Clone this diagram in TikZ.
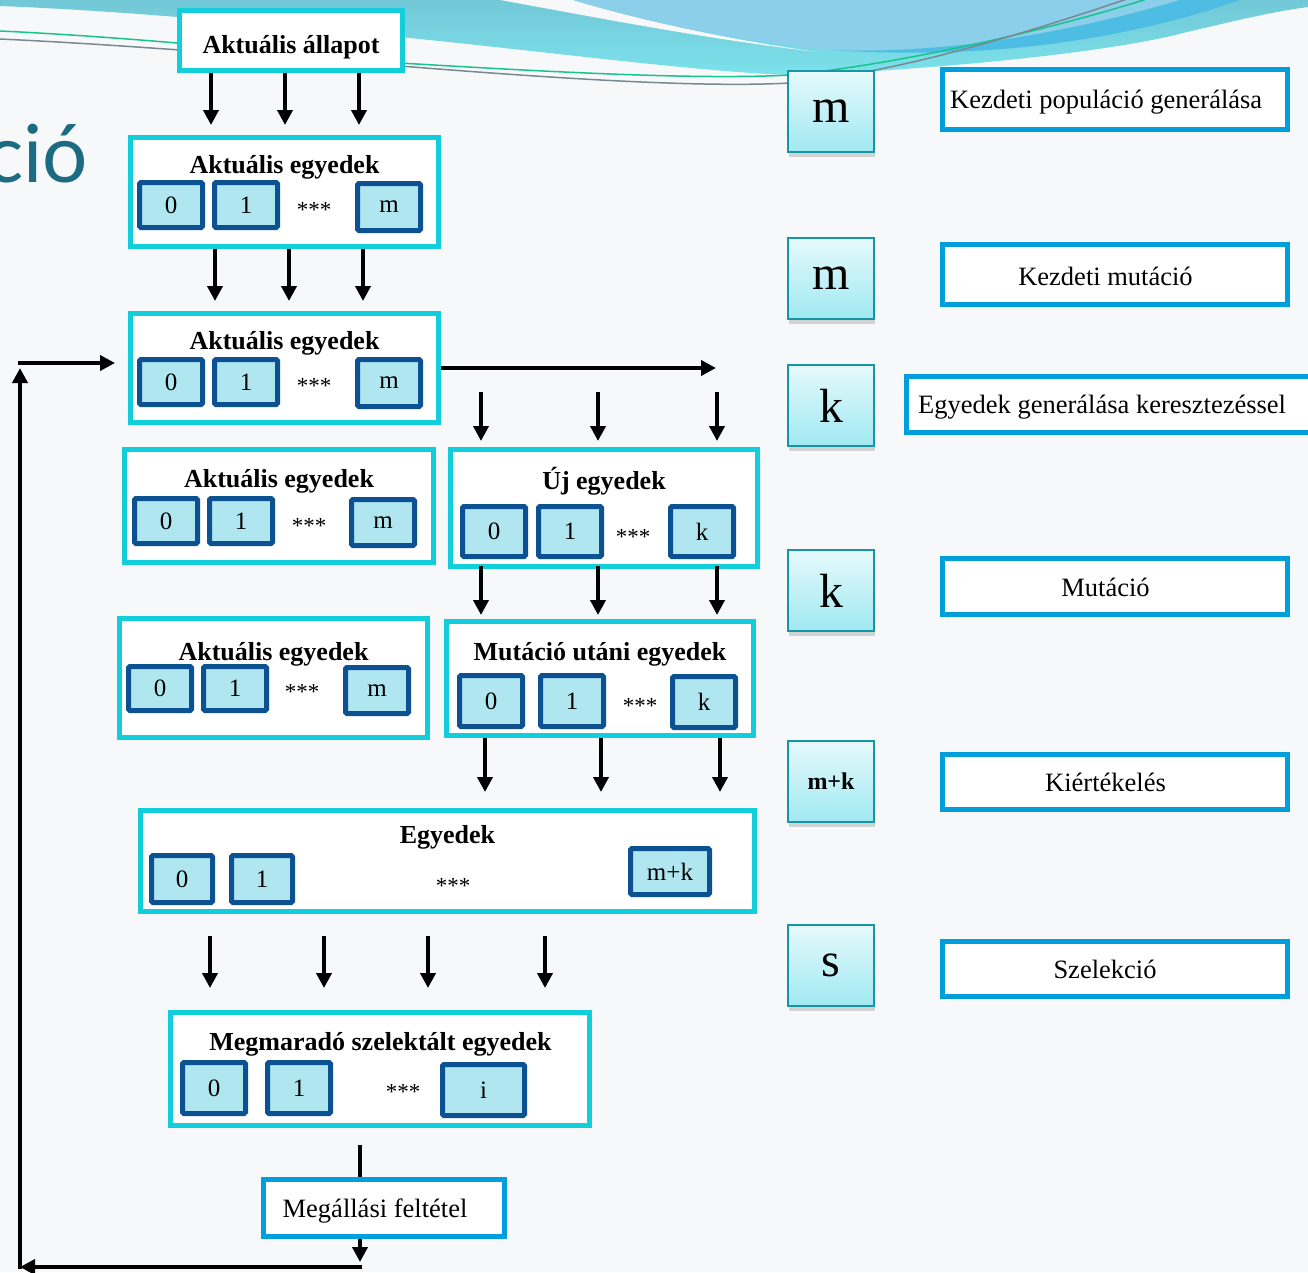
\documentclass[tikz,border=0pt]{standalone}
\usepackage{fontspec}
\setmainfont{Liberation Serif}
\newfontfamily\slidefont{Lato}
\usetikzlibrary{arrows.meta}
\usetikzlibrary{positioning,shadows}

\definecolor{framecyan}{RGB}{18,206,218}
\definecolor{celldark}{RGB}{12,82,146}
\definecolor{cellfill}{RGB}{176,230,240}
\definecolor{frameblue}{RGB}{0,158,218}
\definecolor{sqedge}{RGB}{22,150,160}
\definecolor{sqtop}{RGB}{230,250,252}
\definecolor{sqbot}{RGB}{160,233,242}
\definecolor{wavedark}{RGB}{114,200,214}
\definecolor{wavecyan}{RGB}{123,226,236}
\definecolor{wavesky}{RGB}{139,207,234}
\definecolor{waveblue}{RGB}{77,189,227}
\definecolor{wavegreen}{RGB}{24,196,140}
\definecolor{wavegrey}{RGB}{120,138,145}
\definecolor{titleteal}{RGB}{27,107,130}
\definecolor{pagebg}{RGB}{246,248,249}

\begin{document}
\begin{tikzpicture}[x=1pt,y=-1pt,>={Triangle[length=15pt,width=15pt]},
    frame node/.style={rectangle,draw=framecyan,line width=5pt,fill=white,inner sep=0pt},
    cell node/.style={rectangle,draw=celldark,line width=5pt,fill=cellfill,rounded corners=1.5pt,
                      inner sep=0pt,minimum width=63pt,minimum height=45pt,font=\fontsize{25}{28}\selectfont},
    dots node/.style={anchor=base,inner sep=0pt,font=\fontsize{23}{26}\selectfont},
    title node/.style={anchor=base,inner sep=0pt,font=\fontsize{26}{30}\selectfont\bfseries},
    side node/.style={rectangle,draw=frameblue,line width=5pt,fill=white,inner sep=0pt,minimum width=345pt},
    side text/.style={inner sep=0pt,text height=17pt,text depth=0pt,font=\fontsize{26.5}{30}\selectfont},
    count node/.style={rectangle,draw=sqedge,line width=2pt,top color=sqtop,bottom color=sqbot,
                       minimum width=86pt,minimum height=81pt,inner sep=0pt,
                       drop shadow={opacity=0.3,shadow xshift=1pt,shadow yshift=-5pt},
                       font=\fontsize{48}{50}\selectfont},
    arr/.style={->,line width=4pt}]

  \useasboundingbox (0,0) rectangle (1308,1272);
  \clip (0,0) rectangle (1308,1272);
  \fill[pagebg] (0,0) rectangle (1308,1272);

  % slide decoration
  \shade[top color=wavedark,bottom color=wavecyan] (0,0) -- (0,6)
    .. controls (150,12) and (300,28) .. (400,37)
    .. controls (550,52) and (700,72) .. (790,75)
    .. controls (900,72) and (1100,55) .. (1183,33)
    .. controls (1230,22) and (1270,12) .. (1308,7) -- (1308,0) -- cycle;
  \fill[pagebg] (500,0) .. controls (600,18) and (700,38) .. (817,52)
    .. controls (720,38) and (640,20) .. (573,0) -- cycle;
  \fill[wavesky] (573,0) .. controls (640,20) and (720,38) .. (830,50)
    .. controls (950,55) and (1080,30) .. (1180,0) -- cycle;
  \fill[waveblue] (830,50) .. controls (950,55) and (1080,30) .. (1180,0) -- (1240,0)
    .. controls (1120,42) and (980,60) .. (830,50) -- cycle;
  \draw[wavegreen,line width=1.5pt] (0,31) .. controls (150,38) and (300,55) .. (400,63)
    .. controls (550,72) and (700,80) .. (790,75) .. controls (900,64) and (1050,30) .. (1150,-2);
  \draw[wavegrey,line width=1.5pt] (0,39) .. controls (150,46) and (300,60) .. (400,66)
    .. controls (550,78) and (700,88) .. (790,83) .. controls (900,72) and (1020,35) .. (1130,-2);
  \node[anchor=base east,inner sep=0pt,text=titleteal,font=\slidefont\fontsize{80}{90}\selectfont] (cim) at (88,182) {ció};

  % left column
  \node[frame node,minimum width=223pt,minimum height=60pt] (allapot) at (291,40.5) {};
  \node[title node] at (291,53) {Aktuális állapot};

  \node[frame node,minimum width=308pt,minimum height=109pt] (akt1) at (284.5,192) {};
  \node[title node] at (284.5,173) {Aktuális egyedek};
  \node[cell node] (a10) at (171,205) {0};
  \node[cell node] (a11) [right=7pt of a10] {1};
  \node[dots node] at (314,217) {***};
  \node[cell node,minimum height=47pt] (a1m) at (389,207) {m};

  \node[frame node,minimum width=308pt,minimum height=109pt] (akt2) at (284.5,368) {};
  \node[title node] at (284.5,349) {Aktuális egyedek};
  \node[cell node] (a20) at (171,382) {0};
  \node[cell node] (a21) [right=7pt of a20] {1};
  \node[dots node] at (314,393) {***};
  \node[cell node,minimum height=47pt] (a2m) at (389,383) {m};

  \node[frame node,minimum width=309pt,minimum height=113pt] (akt3) at (279,506) {};
  \node[title node] at (279,487) {Aktuális egyedek};
  \node[cell node] (a30) at (166,521) {0};
  \node[cell node] (a31) [right=7pt of a30] {1};
  \node[dots node] at (309,533) {***};
  \node[cell node,minimum height=46pt] (a3m) at (383,522.5) {m};

  \node[frame node,minimum width=307pt,minimum height=117pt] (uj) at (604,508) {};
  \node[title node] at (604,489) {Új egyedek};
  \node[cell node,minimum height=50pt] (u0) at (494,531.5) {0};
  \node[cell node,minimum height=50pt] (u1) [right=8pt of u0] {1};
  \node[dots node] at (633,544) {***};
  \node[cell node,minimum height=50pt] (uk) at (702,531.5) {k};

  \node[frame node,minimum width=308pt,minimum height=119pt] (akt4) at (273.5,678) {};
  \node[title node] at (273.5,660) {Aktuális egyedek};
  \node[cell node,minimum height=44pt] (a40) at (160,688.5) {0};
  \node[cell node,minimum height=44pt] (a41) [right=7pt of a40] {1};
  \node[dots node] at (302,699) {***};
  \node[cell node,minimum height=46pt] (a4m) at (377,690.5) {m};

  \node[frame node,minimum width=307pt,minimum height=114pt] (mut) at (600,678.5) {};
  \node[title node] at (600,660) {Mutáció utáni egyedek};
  \node[cell node,minimum height=51pt] (m0) at (491,701) {0};
  \node[cell node,minimum height=51pt] (m1) [right=13pt of m0] {1};
  \node[dots node] at (640,713) {***};
  \node[cell node,minimum height=51pt] (mk) at (704,702) {k};

  \node[frame node,minimum width=614pt,minimum height=101pt] (egy) at (447.5,861) {};
  \node[title node] at (447.5,843) {Egyedek};
  \node[cell node,minimum width=61pt,minimum height=47pt] (e0) at (182,879) {0};
  \node[cell node,minimum width=61pt,minimum height=47pt] (e1) [right=14pt of e0] {1};
  \node[dots node] at (453,893) {***};
  \node[cell node,minimum width=79pt,minimum height=46pt] (emk) at (670,871.5) {m+k};

  \node[frame node,minimum width=419pt,minimum height=113pt] (megm) at (380,1069) {};
  \node[title node] at (380.5,1050) {Megmaradó szelektált egyedek};
  \node[cell node,minimum height=51pt] (s0) at (214,1088) {0};
  \node[cell node,minimum height=51pt] (s1) [right=17pt of s0] {1};
  \node[dots node] at (403,1099) {***};
  \node[cell node,minimum width=82pt,minimum height=51pt] (si) at (483.5,1090) {i};

  \node[side node,minimum width=241pt,minimum height=57pt] (stop) at (384,1208) {};
  \node[side text] at (375,1208.5) {Megállási feltétel};

  % arrows
  \foreach \x in {211,285,359} {
    \coordinate (k) at (\x,0);
    \draw[arr,shorten >=10pt] (allapot.south -| k) -- (akt1.north -| k);
  }
  \foreach \x in {215,289,363} {
    \coordinate (k) at (\x,0);
    \draw[arr,shorten >=10pt] (akt1.south -| k) -- (akt2.north -| k);
  }
  \coordinate (jobb) at (716,368);
  \draw[arr] (akt2.east |- jobb) -- (jobb);
  \foreach \x in {481,598,717} {
    \coordinate (k) at (\x,0);
    \draw[arr,shorten >=6pt] ([yshift=55pt]uj.north -| k) -- (uj.north -| k);
    \draw[arr,shorten >=4pt] ([yshift=3pt]uj.south -| k) -- (mut.north -| k);
  }
  \foreach \x in {485,601,720} {
    \coordinate (k) at (\x,0);
    \draw[arr,shorten >=16pt] (mut.south -| k) -- (egy.north -| k);
  }
  \foreach \x in {210,324,428,545} {
    \coordinate (k) at (\x,0);
    \draw[arr,shorten <=22pt,shorten >=22pt] (egy.south -| k) -- (megm.north -| k);
  }

  % loop back
  \coordinate (lp) at (360,1267);
  \coordinate (bal) at (20,1267);
  \coordinate (fel) at (20,368);
  \coordinate (be) at (20,363);
  \draw[line width=4pt,shorten <=17pt] (megm.south -| lp) -- (stop.north -| lp);
  \draw[arr,shorten >=5pt] (stop.south -| lp) -- (lp);
  \draw[arr] ([xshift=2pt]lp) -- (bal);
  \draw[arr] ([yshift=-2pt]bal) -- (fel);
  \draw[arr,shorten >=13pt] ([xshift=-2pt]be) -- (akt2.west |- be);

  % right column
  \node[count node] (n1) at (831,111.5) {m};
  \node[count node] (n2) at (831,278) {m};
  \node[count node] (n3) at (831,405.5) {k};
  \node[count node] (n4) at (831,590.5) {k};
  \node[count node,font=\fontsize{24}{26}\selectfont\bfseries] (n5) at (831,781.5) {m+k};
  \node[count node] (n6) at (831,965.5) {s};

  \node[side node,minimum height=60pt] (r1) at (1115,99.5) {};
  \node[side text,anchor=west] at (950,99.8) {Kezdeti populáció generálása};
  \node[side node,minimum height=60pt] (r2) at (1115,274.5) {};
  \node[side text] at (1105.5,276.5) {Kezdeti mutáció};
  \node[side node,minimum width=450pt,minimum height=56pt] (r3) at (1131.5,404.5) {};
  \node[side text,anchor=west] at (918,404.5) {Egyedek generálása keresztezéssel};
  \node[side node,minimum height=56pt] (r4) at (1115,586.5) {};
  \node[side text] at (1105.5,587.5) {Mutáció};
  \node[side node,minimum height=55pt] (r5) at (1115,782) {};
  \node[side text] at (1105.5,783) {Kiértékelés};
  \node[side node,minimum height=55pt] (r6) at (1115,969) {};
  \node[side text] at (1105,969.5) {Szelekció};
\end{tikzpicture}
\end{document}
